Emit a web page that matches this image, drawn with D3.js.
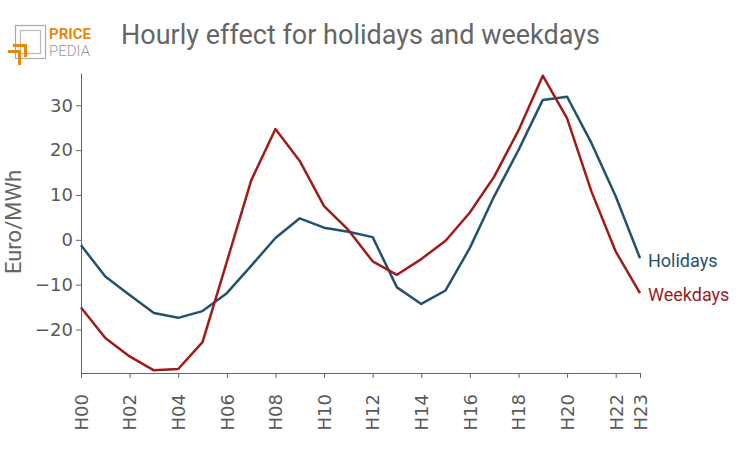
<!DOCTYPE html>
<html>
<head>
<meta charset="utf-8">
<script src="https://cdn.jsdelivr.net/npm/d3@7"></script>
<style>
  body { margin: 0; background: #fff; }
  svg { display: block; }
</style>
</head>
<body>
<div id="chart"></div>
<script>
// Hourly effect data
const hours = ["H00","H01","H02","H03","H04","H05","H06","H07","H08","H09","H10","H11",
               "H12","H13","H14","H15","H16","H17","H18","H19","H20","H21","H22","H23"];
const holidays = [-1.2, -8.2, -12.3, -16.3, -17.4, -15.9, -11.9, -5.8, 0.4, 4.8, 2.7, 1.8,
                  0.6, -10.6, -14.3, -11.3, -1.8, 9.7, 20.0, 31.2, 31.9, 21.6, 9.7, -4.1];
const weekdays = [-15.1, -21.9, -26.0, -29.1, -28.8, -22.8, -4.9, 13.2, 24.7, 17.6, 7.5, 2.2,
                  -4.8, -7.8, -4.3, -0.2, 6.1, 14.1, 24.4, 36.6, 27.1, 10.8, -2.6, -11.9];
const tickHours = ["H00","H02","H04","H06","H08","H10","H12","H14","H16","H18","H20","H22","H23"];
const yTicks = [-20, -10, 0, 10, 20, 30];

const width = 739, height = 450;
const margin = { top: 73, right: 99, bottom: 77, left: 81 };

const svg = d3.select("#chart").append("svg")
  .attr("width", width)
  .attr("height", height);

// scales
const x = d3.scalePoint()
  .domain(hours)
  .range([margin.left, width - margin.right]);

const y = d3.scaleLinear()
  .domain([-29.7, 37.2])
  .range([height - margin.bottom, margin.top]);

// axes
const xAxis = svg.append("g")
  .attr("transform", `translate(0,${height - margin.bottom})`)
  .call(d3.axisBottom(x).tickValues(tickHours).tickSize(5).tickSizeOuter(0));
xAxis.selectAll("text")
  .attr("transform", "rotate(-90)")
  .attr("text-anchor", "end")
  .attr("x", -21)
  .attr("y", 0)
  .attr("dy", "0.35em");

const yAxis = svg.append("g")
  .attr("transform", `translate(${margin.left},0)`)
  .call(d3.axisLeft(y).tickValues(yTicks).tickSize(5).tickSizeOuter(0).tickFormat(d3.format("")));
yAxis.selectAll("text").attr("x", -8);

svg.selectAll(".tick text")
  .style("font-family", "DejaVu Sans, sans-serif")
  .style("font-size", "18px")
  .attr("fill", "#5a5a5a");
svg.selectAll(".domain, .tick line").attr("stroke", "#666");

// axis title
svg.append("text")
  .attr("transform", "rotate(-90)")
  .attr("x", -222)
  .attr("y", 21)
  .attr("text-anchor", "middle")
  .style("font-family", "Roboto, sans-serif")
  .style("font-size", "22px")
  .attr("fill", "#666")
  .text("Euro/MWh");

// lines
const series = [
  { name: "Holidays", values: holidays, color: "#23536b" },
  { name: "Weekdays", values: weekdays, color: "#a01b1b" }
];

const line = d3.line()
  .x((d, i) => x(hours[i]))
  .y(d => y(d));

series.forEach(s => {
  svg.append("path")
    .datum(s.values)
    .attr("fill", "none")
    .attr("stroke", s.color)
    .attr("stroke-width", 2.5)
    .attr("stroke-linejoin", "round")
    .attr("d", line);

  svg.append("text")
    .attr("x", x(hours[hours.length - 1]) + 8)
    .attr("y", y(s.values[s.values.length - 1]) + 2)
    .attr("dy", "0.35em")
    .style("font-family", "Roboto, sans-serif")
    .style("font-size", "18px")
    .attr("fill", s.color)
    .text(s.name);
});

// title
svg.append("text")
  .attr("x", 121)
  .attr("y", 44)
  .style("font-family", "Roboto, sans-serif")
  .style("font-size", "27px")
  .attr("fill", "#666")
  .text("Hourly effect for holidays and weekdays");

// logo
const logo = svg.append("g");
logo.append("rect").attr("x", 15.5).attr("y", 25.5).attr("width", 30).attr("height", 33)
  .attr("fill", "none").attr("stroke", "#aaa").attr("stroke-width", 1.2);
logo.append("rect").attr("x", 20.5).attr("y", 30.5).attr("width", 20).attr("height", 23)
  .attr("fill", "none").attr("stroke", "#bbb").attr("stroke-width", 1.2);
logo.append("path").attr("d", "M13,44 L27,44 L27,57 L24,57 L24,47 L13,47 Z").attr("fill", "#e8890c");
logo.append("path").attr("d", "M8,50 L21,50 L21,65 L18,65 L18,53 L8,53 Z").attr("fill", "#e8890c");
logo.append("text").attr("x", 49).attr("y", 38.5)
  .style("font-family", "Roboto, sans-serif").style("font-size", "15px").style("font-weight", "bold")
  .attr("fill", "#e8890c").text("PRICE");
logo.append("text").attr("x", 49).attr("y", 56)
  .style("font-family", "Roboto, sans-serif").style("font-size", "15px").style("font-weight", "300")
  .attr("fill", "#999").text("PEDIA");
</script>
</body>
</html>
